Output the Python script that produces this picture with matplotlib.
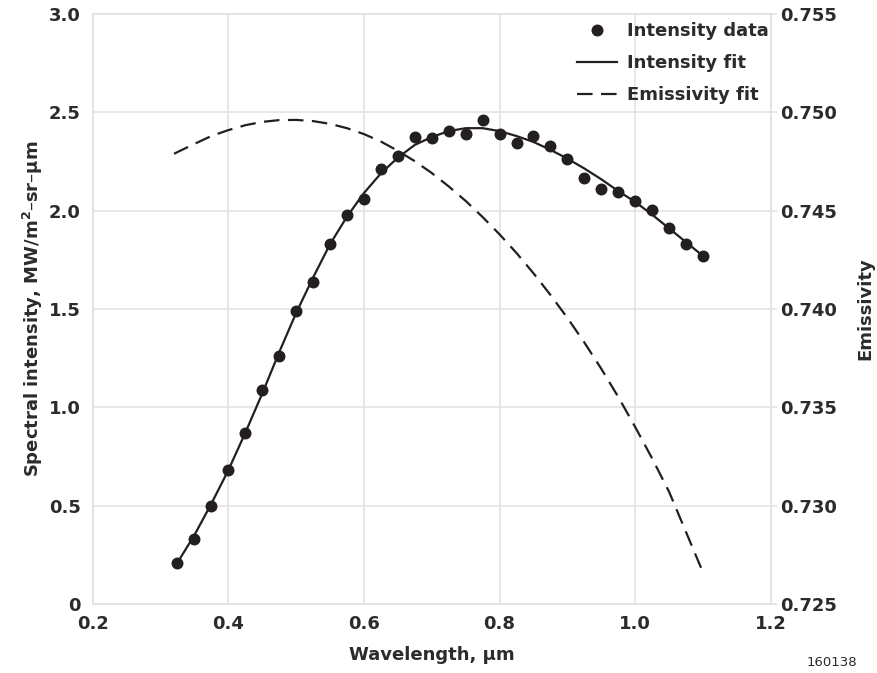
import matplotlib.pyplot as plt
from matplotlib.ticker import FixedLocator, FuncFormatter
from matplotlib.lines import Line2D

# wavelength of the measured points, um
wavelength = [0.325, 0.35, 0.375, 0.40, 0.425, 0.45, 0.475, 0.50, 0.525, 0.55,
              0.575, 0.60, 0.625, 0.65, 0.675, 0.70, 0.725, 0.75, 0.775, 0.80,
              0.825, 0.85, 0.875, 0.90, 0.925, 0.95, 0.975, 1.00, 1.025, 1.05,
              1.075, 1.10]

# measured spectral intensity, MW/m2-sr-um
intensity_data = [0.21, 0.33, 0.50, 0.68, 0.87, 1.09, 1.26, 1.49, 1.64, 1.83,
                  1.98, 2.06, 2.21, 2.28, 2.375, 2.37, 2.405, 2.39, 2.46, 2.39,
                  2.345, 2.38, 2.33, 2.265, 2.165, 2.11, 2.095, 2.05, 2.005, 1.91,
                  1.83, 1.77]

# intensity fit (same wavelengths)
intensity_fit = [0.21, 0.35, 0.51, 0.68, 0.87, 1.07, 1.28, 1.48, 1.66, 1.83,
                 1.97, 2.09, 2.19, 2.27, 2.335, 2.375, 2.405, 2.42, 2.42, 2.405,
                 2.38, 2.35, 2.31, 2.265, 2.215, 2.16, 2.10, 2.045, 1.98, 1.91,
                 1.84, 1.77]

# emissivity fit (right axis)
emis_wavelength = [0.32, 0.35, 0.375, 0.40, 0.425, 0.45, 0.475, 0.50, 0.525, 0.55,
                   0.575, 0.60, 0.625, 0.65, 0.675, 0.70, 0.725, 0.75, 0.775, 0.80,
                   0.825, 0.85, 0.875, 0.90, 0.925, 0.95, 0.975, 1.00, 1.025, 1.05,
                   1.075, 1.10]
emissivity_fit = [0.7479, 0.7484, 0.7488, 0.7491, 0.74935, 0.74952, 0.74961, 0.74962,
                  0.74956, 0.74942, 0.7492, 0.7489, 0.74852, 0.74805, 0.74752, 0.74692,
                  0.74624, 0.7455, 0.74468, 0.7438, 0.74285, 0.74182, 0.74072, 0.73955,
                  0.7383, 0.73696, 0.73553, 0.734, 0.7324, 0.7307, 0.72865, 0.7266]

x_ticks = [0.2, 0.4, 0.6, 0.8, 1.0, 1.2]
left_ticks = [0, 0.5, 1.0, 1.5, 2.0, 2.5, 3.0]
right_ticks = [0.725, 0.730, 0.735, 0.740, 0.745, 0.750, 0.755]

plt.rcParams['font.family'] = ['DejaVu Sans']
ink = '#231f20'
txt = '#2b2b2b'
grid_col = '#e3e3e3'
dash = (7, 3.8)

fig = plt.figure(figsize=(8.78, 6.73), dpi=100)
ax = fig.add_axes([0.1055, 0.1025, 0.7725, 0.8765])
ax2 = ax.twinx()

ax.plot(wavelength, intensity_fit, color=ink, lw=1.6, zorder=3)
ax.plot(wavelength, intensity_data, 'o', color=ink, ms=8.6, mec='none', zorder=4)
ax2.plot(emis_wavelength, emissivity_fit, color=ink, lw=1.6, dashes=dash)

ax.set_xlim(0.2, 1.2)
ax.set_ylim(0, 3.0)
ax2.set_ylim(0.725, 0.755)

ax.xaxis.set_major_locator(FixedLocator(x_ticks))
ax.yaxis.set_major_locator(FixedLocator(left_ticks))
ax2.yaxis.set_major_locator(FixedLocator(right_ticks))
ax.xaxis.set_major_formatter(FuncFormatter(lambda v, p: f'{v:.1f}'))
ax.yaxis.set_major_formatter(FuncFormatter(lambda v, p: '0' if v == 0 else f'{v:.1f}'))
ax2.yaxis.set_major_formatter(FuncFormatter(lambda v, p: f'{v:.3f}'))

ax.grid(True, color=grid_col, lw=1.2)
ax.set_axisbelow(True)
for a in (ax, ax2):
    for s in a.spines.values():
        s.set_color(grid_col)
        s.set_linewidth(1.2)
    a.tick_params(length=0, labelsize=13, labelcolor=txt)
    for lab in a.get_xticklabels() + a.get_yticklabels():
        lab.set_fontweight('bold')
ax.tick_params(axis='x', pad=8)
ax.tick_params(axis='y', pad=8.5)
ax2.tick_params(axis='y', length=4, width=1.2, color=grid_col, pad=2.5)

ax.set_xlabel('Wavelength, \u03bcm', fontsize=13, fontweight='bold', color=txt, labelpad=9)
ax.set_ylabel('Spectral intensity, MW/m$^\\mathbf{2}$\u2013sr\u2013\u03bcm', fontsize=13,
              fontweight='bold', color=txt, labelpad=3)
ax2.set_ylabel('Emissivity', fontsize=13, fontweight='bold', color=txt, labelpad=14)

handles = [Line2D([], [], ls='none', marker='o', color=ink, ms=8.6, mec='none'),
           Line2D([], [], color=ink, lw=1.6),
           Line2D([], [], color=ink, lw=1.6, dashes=dash)]
leg = ax2.legend(handles, ['Intensity data', 'Intensity fit', 'Emissivity fit'],
                 loc='upper right', bbox_to_anchor=(1.009, 1.0), frameon=False,
                 handlelength=2.2, handletextpad=0.55, borderaxespad=0, borderpad=0.45,
                 labelspacing=0.77, prop={'weight': 'bold', 'size': 13})
for t in leg.get_texts():
    t.set_color(txt)

fig.text(0.976, 0.0163, '160138', fontsize=9.5, color=txt, ha='right', va='center')

fig.savefig('out.png', dpi=100)
